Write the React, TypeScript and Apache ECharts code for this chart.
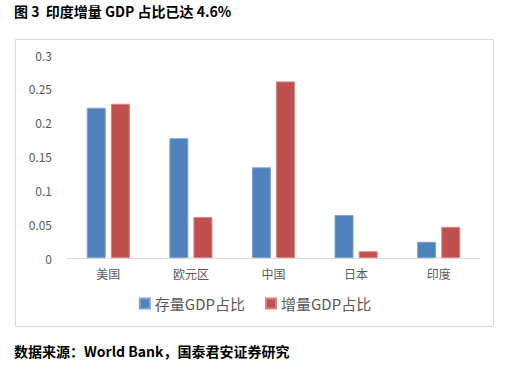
import React, { useEffect, useRef } from "react";
import * as echarts from "echarts";

const categories = ["美国", "欧元区", "中国", "日本", "印度"];
const stockShare = [0.222, 0.177, 0.134, 0.0635, 0.024];
const incrShare = [0.228, 0.0605, 0.261, 0.01, 0.046];
const seriesNames = ["存量GDP占比", "增量GDP占比"];
const yTicks = [0, 0.05, 0.1, 0.15, 0.2, 0.25, 0.3];

const FONT = "'Noto Sans CJK SC', 'Noto Sans', sans-serif";

export default function App() {
  const ref = useRef<HTMLDivElement>(null);
  useEffect(() => {
    if (!ref.current) return;
    const chart = echarts.init(ref.current, undefined, { renderer: "svg" });
    chart.setOption({
      animation: false,
      backgroundColor: "#ffffff",
      textStyle: { fontFamily: FONT },
      graphic: [
        {
          type: "rect",
          shape: { x: 15.5, y: 39.5, width: 478, height: 287 },
          style: { fill: "none", stroke: "#d9d9d9", lineWidth: 1 },
          z: -1,
        },
        {
          type: "text",
          left: 14,
          top: 4,
          style: {
            text: "图 3  印度增量 GDP 占比已达 4.6%",
            font: `bold 14px ${FONT}`,
            fill: "#000000",
          },
        },
        {
          type: "text",
          left: 14,
          top: 344,
          style: {
            text: "数据来源：World Bank，国泰君安证券研究",
            font: `bold 14px ${FONT}`,
            fill: "#000000",
          },
        },
      ],
      legend: {
        data: seriesNames,
        top: 291,
        left: "center",
        itemWidth: 10,
        itemHeight: 10,
        itemGap: 20,
        icon: "rect",
        textStyle: { fontSize: 15, color: "#595959", fontFamily: FONT },
      },
      grid: { left: 67, right: 30, top: 55, bottom: 109 },
      xAxis: {
        type: "category",
        data: categories,
        axisLine: { lineStyle: { color: "#d9d9d9" } },
        axisTick: { show: false },
        axisLabel: { color: "#595959", fontSize: 12, margin: 9 },
      },
      yAxis: {
        type: "value",
        min: 0,
        max: 0.3,
        interval: 0.05,
        axisLine: { show: false },
        axisTick: { show: false },
        splitLine: { show: false },
        axisLabel: {
          color: "#595959",
          fontSize: 12,
          margin: 15,
          formatter: (v: number) => {
            const t = yTicks.find((x) => Math.abs(x - v) < 1e-9);
            return String(t !== undefined ? t : v);
          },
        },
      },
      series: [
        {
          name: seriesNames[0],
          type: "bar",
          data: stockShare,
          barWidth: 19,
          barGap: "27%",
          itemStyle: { color: "#4f81bd", borderColor: "#7fa3d1", borderWidth: 1 },
        },
        {
          name: seriesNames[1],
          type: "bar",
          data: incrShare,
          barWidth: 19,
          barGap: "27%",
          itemStyle: { color: "#c0504d", borderColor: "#d68481", borderWidth: 1 },
        },
      ],
    });
    return () => chart.dispose();
  }, []);
  return (
    <div
      ref={ref}
      style={{ position: "fixed", left: 0, top: 0, width: 510, height: 367 }}
    />
  );
}
